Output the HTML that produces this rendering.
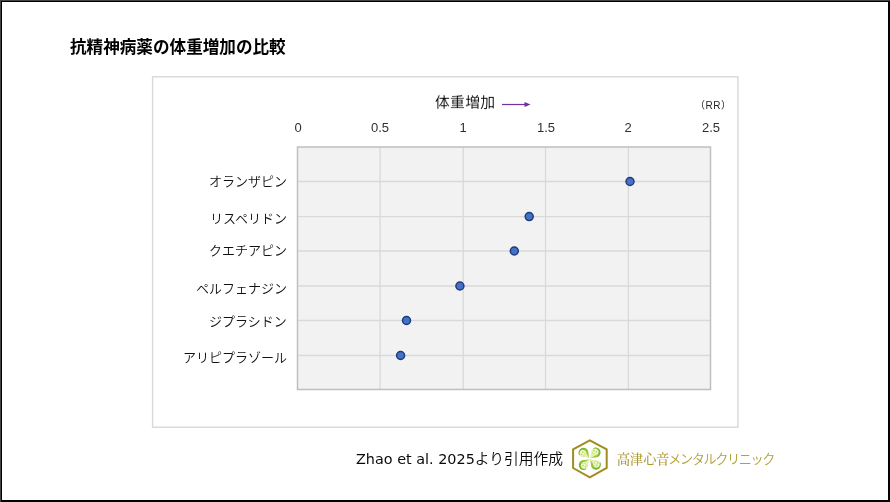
<!DOCTYPE html>
<html lang="ja">
<head>
<meta charset="utf-8">
<title>抗精神病薬の体重増加の比較</title>
<style>
  html, body { margin: 0; padding: 0; }
  body { width: 890px; height: 502px; overflow: hidden; background: #fff; position: relative;
         font-family: "Liberation Sans", "Noto Sans CJK JP", sans-serif; }
  #frame { position: absolute; left: 0; top: 0; width: 886px; height: 498px; border: 2px solid #000; }
  #frame-tl-h { position: absolute; left: 0; top: 0; width: 890px; height: 1px; background: #444; }
  #frame-tl-v { position: absolute; left: 0; top: 0; width: 1px; height: 502px; background: #444; }
  svg#g { position: absolute; left: 0; top: 0; }
  .t { will-change: transform; position: absolute; white-space: nowrap; line-height: 1; margin: 0; }
  #title { left: 70px; top: 40.2px; font-size: 16.6px; font-weight: bold; color: #000; transform: scaleY(1.05); transform-origin: 0 90%; }
  #ylab { left: 434.8px; top: 95.4px; letter-spacing: 0.3px; font-size: 14.8px; color: #000; font-weight: 350; transform: scaleY(0.94); transform-origin: 0 100%; }
  #rr { left: 695px; top: 101.3px; font-size: 10px; letter-spacing: 0.5px; color: #262626; }
  .xn { top: 121px; font-size: 13px; color: #303030; width: 40px; text-align: center; }
  .cat { font-size: 13px; font-weight: 350; color: #111; right: 603px; text-align: right; }
  #src { left: 355.5px; top: 451.8px; font-size: 14.75px; font-weight: 350; color: #0a0a0a; font-family: "DejaVu Sans", "Noto Sans CJK JP", sans-serif; }
  #src .lat { font-size: 14.4px; font-weight: 400; }
  #clinic { left: 617.2px; top: 453.3px; font-size: 13.1px; color: #ad9832; font-family: "Liberation Serif", "Noto Serif CJK SC", serif; font-weight: 500; }
  #clinic .kn { font-family: "Liberation Sans", "Noto Sans CJK JP", sans-serif; font-weight: 350; color: #b3a038; letter-spacing: -1.35px; margin-left: -1.2px; }
</style>
</head>
<body>
<div id="frame"></div>
<div id="frame-tl-h"></div>
<div id="frame-tl-v"></div>

<svg id="g" width="890" height="502" viewBox="0 0 890 502">
  <!-- chart outer box -->
  <rect x="152.6" y="76.8" width="585.4" height="350.4" fill="#fff" stroke="#d9d9d9" stroke-width="1.4"/>
  <!-- plot area -->
  <rect x="297.5" y="147" width="413" height="242.5" fill="#f2f2f2" stroke="none"/>
  <!-- gridlines -->
  <g stroke="#d9d9d9" stroke-width="1.3">
    <line x1="380.1" y1="147" x2="380.1" y2="389.5"/>
    <line x1="463.2" y1="147" x2="463.2" y2="389.5"/>
    <line x1="545.5" y1="147" x2="545.5" y2="389.5"/>
    <line x1="628.4" y1="147" x2="628.4" y2="389.5"/>
    <line x1="297.5" y1="181.5" x2="710.5" y2="181.5"/>
    <line x1="297.5" y1="216.6" x2="710.5" y2="216.6"/>
    <line x1="297.5" y1="251" x2="710.5" y2="251"/>
    <line x1="297.5" y1="286" x2="710.5" y2="286"/>
    <line x1="297.5" y1="320.5" x2="710.5" y2="320.5"/>
    <line x1="297.5" y1="355.5" x2="710.5" y2="355.5"/>
  </g>
  <rect x="297.5" y="147" width="413" height="242.5" fill="none" stroke="#bfbfbf" stroke-width="1.5"/>
  <!-- points -->
  <g fill="#4472c4" stroke="#1f3a7d" stroke-width="1.5">
    <circle cx="630" cy="181.5" r="4"/>
    <circle cx="529.2" cy="216.6" r="4"/>
    <circle cx="514.3" cy="251" r="4"/>
    <circle cx="459.9" cy="286" r="4"/>
    <circle cx="406.5" cy="320.5" r="4"/>
    <circle cx="400.6" cy="355.5" r="4"/>
  </g>
  <!-- arrow -->
  <g stroke="#7030a0" fill="#7030a0">
    <line x1="502" y1="104.5" x2="526" y2="104.5" stroke-width="1.2"/>
    <polygon points="524.5,102 530.5,104.5 524.5,107" stroke="none"/>
  </g>
  <!-- logo -->
  <defs>
    <linearGradient id="lg1" x1="0" y1="0" x2="1" y2="1">
      <stop offset="0" stop-color="#63b022"/>
      <stop offset="1" stop-color="#b4d547"/>
    </linearGradient>
    <radialGradient id="lg2" cx="0.45" cy="0.45" r="0.7">
      <stop offset="0" stop-color="#f8fbe6"/>
      <stop offset="1" stop-color="#dcebA0"/>
    </radialGradient>
  </defs>
  <g id="logo">
    <polygon points="589.8,440.3 606.7,449.4 606.7,468 589.8,477.3 573.1,468 573.1,449.4" fill="#fff" stroke="#a28b1f" stroke-width="2" stroke-linejoin="miter"/>
    <g transform="translate(589.7,458.7)">
      <g transform="rotate(0)">
        <path d="M-0.5,-0.5 C-1.4,-2.2 -2.2,-3.8 -2.6,-5 L-6,-1.9 C-4,-1.4 -2,-1 -0.5,-0.5 Z" fill="#e3efb4"/>
        <circle cx="-6.3" cy="-5.9" r="4.5" fill="url(#lg2)"/>
        <path d="M-10.3,-3.1 A5,5 0 1 1 -1.2,-6 C-1.1,-4 -0.7,-2 -0.2,-0.2 C-1.3,-1.8 -2.5,-3.6 -3.3,-5.3 A3.45,3.45 0 1 0 -9.9,-4.1 Z" fill="url(#lg1)"/>
        <circle cx="-6.9" cy="-6.6" r="0.95" fill="#c6dc58"/>
        <circle cx="-4.9" cy="-4.6" r="0.85" fill="#d6e574"/>
        <circle cx="-8.1" cy="-4.2" r="0.8" fill="#b8d54c"/>
        <circle cx="-6.1" cy="-2.9" r="0.65" fill="#cbdf68"/>
        <circle cx="-4.6" cy="-7" r="0.6" fill="#d6e574"/>
      </g>
      <g transform="rotate(90)">
        <path d="M-0.5,-0.5 C-1.4,-2.2 -2.2,-3.8 -2.6,-5 L-6,-1.9 C-4,-1.4 -2,-1 -0.5,-0.5 Z" fill="#e3efb4"/>
        <circle cx="-6.3" cy="-5.9" r="4.5" fill="url(#lg2)"/>
        <path d="M-10.3,-3.1 A5,5 0 1 1 -1.2,-6 C-1.1,-4 -0.7,-2 -0.2,-0.2 C-1.3,-1.8 -2.5,-3.6 -3.3,-5.3 A3.45,3.45 0 1 0 -9.9,-4.1 Z" fill="url(#lg1)"/>
        <circle cx="-6.9" cy="-6.6" r="0.95" fill="#c6dc58"/>
        <circle cx="-4.9" cy="-4.6" r="0.85" fill="#d6e574"/>
        <circle cx="-8.1" cy="-4.2" r="0.8" fill="#b8d54c"/>
        <circle cx="-6.1" cy="-2.9" r="0.65" fill="#cbdf68"/>
        <circle cx="-4.6" cy="-7" r="0.6" fill="#d6e574"/>
      </g>
      <g transform="rotate(180)">
        <path d="M-0.5,-0.5 C-1.4,-2.2 -2.2,-3.8 -2.6,-5 L-6,-1.9 C-4,-1.4 -2,-1 -0.5,-0.5 Z" fill="#e3efb4"/>
        <circle cx="-6.3" cy="-5.9" r="4.5" fill="url(#lg2)"/>
        <path d="M-10.3,-3.1 A5,5 0 1 1 -1.2,-6 C-1.1,-4 -0.7,-2 -0.2,-0.2 C-1.3,-1.8 -2.5,-3.6 -3.3,-5.3 A3.45,3.45 0 1 0 -9.9,-4.1 Z" fill="url(#lg1)"/>
        <circle cx="-6.9" cy="-6.6" r="0.95" fill="#c6dc58"/>
        <circle cx="-4.9" cy="-4.6" r="0.85" fill="#d6e574"/>
        <circle cx="-8.1" cy="-4.2" r="0.8" fill="#b8d54c"/>
        <circle cx="-6.1" cy="-2.9" r="0.65" fill="#cbdf68"/>
        <circle cx="-4.6" cy="-7" r="0.6" fill="#d6e574"/>
      </g>
      <g transform="rotate(270)">
        <path d="M-0.5,-0.5 C-1.4,-2.2 -2.2,-3.8 -2.6,-5 L-6,-1.9 C-4,-1.4 -2,-1 -0.5,-0.5 Z" fill="#e3efb4"/>
        <circle cx="-6.3" cy="-5.9" r="4.5" fill="url(#lg2)"/>
        <path d="M-10.3,-3.1 A5,5 0 1 1 -1.2,-6 C-1.1,-4 -0.7,-2 -0.2,-0.2 C-1.3,-1.8 -2.5,-3.6 -3.3,-5.3 A3.45,3.45 0 1 0 -9.9,-4.1 Z" fill="url(#lg1)"/>
        <circle cx="-6.9" cy="-6.6" r="0.95" fill="#c6dc58"/>
        <circle cx="-4.9" cy="-4.6" r="0.85" fill="#d6e574"/>
        <circle cx="-8.1" cy="-4.2" r="0.8" fill="#b8d54c"/>
        <circle cx="-6.1" cy="-2.9" r="0.65" fill="#cbdf68"/>
        <circle cx="-4.6" cy="-7" r="0.6" fill="#d6e574"/>
      </g>
    </g>
  </g>
</svg>

<div class="t" id="title">抗精神病薬の体重増加の比較</div>
<div class="t" id="ylab">体重増加</div>
<div class="t" id="rr">（RR）</div>

<div class="t xn" style="left:277.5px">0</div>
<div class="t xn" style="left:360px">0.5</div>
<div class="t xn" style="left:443px">1</div>
<div class="t xn" style="left:525.5px">1.5</div>
<div class="t xn" style="left:608.3px">2</div>
<div class="t xn" style="left:690.5px">2.5</div>

<div class="t cat" style="top:174.7px">オランザピン</div>
<div class="t cat" style="top:212px">リスペリドン</div>
<div class="t cat" style="top:243.7px">クエチアピン</div>
<div class="t cat" style="top:281.7px">ペルフェナジン</div>
<div class="t cat" style="top:314.5px">ジプラシドン</div>
<div class="t cat" style="top:350.8px">アリピプラゾール</div>

<div class="t" id="src"><span class="lat">Zhao et al. 2025</span>より引用作成</div>
<div class="t" id="clinic"><span class="kj">高津心音</span><span class="kn">メンタルクリニック</span></div>
</body>
</html>
